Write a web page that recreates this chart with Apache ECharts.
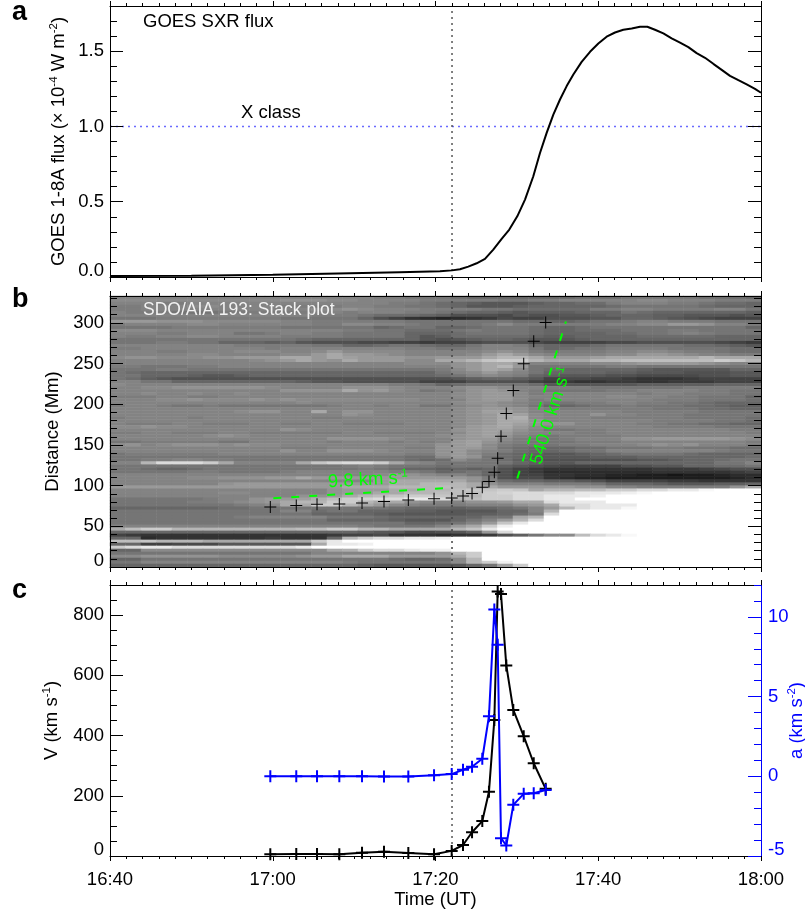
<!DOCTYPE html>
<html>
<head>
<meta charset="utf-8">
<style>html,body{margin:0;padding:0;background:#fff}#chart{width:805px;height:914px}</style>
<script src="https://cdn.jsdelivr.net/npm/echarts@6/dist/echarts.min.js"></script>
</head>
<body>
<div id="chart"></div>
<script>
// Panel a: GOES SXR flux (time in minutes of the day)
const fluxTimes = [1000,1010,1020,1028,1035.6,1040.55,1042.02,1043.01,1044.03,1045.06,1046.08,1047.1,1048.13,1049.07,1050.05,1051,1052.02,1052.84,1053.66,1054.48,1055.3,1056.12,1056.94,1057.96,1058.99,1060.01,1061.03,1062.06,1063.08,1064.11,1065.13,1066.03,1066.97,1068,1069.02,1070.05,1071.07,1072.09,1073.12,1074.14,1075.17,1076.19,1077.22,1078.24,1079.26,1080];
const fluxValues = [0.007,0.009,0.015,0.024,0.032,0.0375,0.044,0.051,0.069,0.091,0.12,0.182,0.253,0.315,0.403,0.514,0.669,0.824,0.957,1.079,1.179,1.268,1.345,1.429,1.496,1.551,1.596,1.624,1.642,1.651,1.662,1.662,1.642,1.618,1.585,1.556,1.527,1.487,1.456,1.416,1.376,1.336,1.307,1.279,1.25,1.224];
const xClassLevel = 1.0;
const onsetTime = 1042.03;

// Panels b and c: tracked front
const trackTimes = [1019.7,1022.89,1025.44,1028.18,1030.97,1033.67,1036.66,1039.82,1041.99,1043.38,1044.49,1045.75,1046.57,1047.23,1047.64,1048.05,1048.7,1049.56,1050.84,1052.07,1053.54];
const trackDistance = [73.8,75.5,77.1,77.5,78.7,80.4,82.4,84,84.8,87.3,90.2,98,105,116.4,133.7,160.7,188.6,216.9,249.6,277.5,300.5];
const velocity = [6,7,7,6,11,14,10,6,17,36.5,79,116,213.6,452,878,870,633,485,398,308,223];
const acceleration = [0,0,0,0,0,-0.02,-0.01,0.06,0.14,0.41,0.6,1.1,3.77,10.46,8.25,-3.88,-4.34,-1.79,-1.1,-1.06,-0.86];

// Linear fits drawn in panel b
const slowFitTimes = [1020.07,1040.95];
const slowFitDistance = [84.5,96.8];
const fastFitTimes = [1050.05,1056.03];
const fastFitDistance = [108.7,301.6];

// Tick labels
const xTickLabels = {1000:'16:40',1020:'17:00',1040:'17:20',1060:'17:40',1080:'18:00'};

// Stack plot grey levels (base-36 digit, 0 black .. z white), top row first
const stackRows = [
"iiiiiiiiiii iiiiiihhgg gfeeeee eefffgggggfffe",
"jjjjjjjjjjj kkkjjiiiih hhhhggh hiiiiijjiiihhh",
"iiihhiiiiii iiiiiiihhg fedcccd eeffhiiihhgffe",
"hhiiijjiiii hhhhiihhgg fecccde eeeefgggggfeee",
"hhiiiiiiiii iijjkjiiih hhhggff fffhhiihhhhiig",
"ihhhggghhhh hhiihiiihh gfeedcd ddeeegfeeeeeed",
"iiiiiiiiiii iihhhgfffe dbbbacb bccdeeeddcccbc",
"ggghhhhhhhh gggggeb976 5678a99 bbbcceedcba999",
"lllkkkjjjjj iihhhhhhgg gggggff eefgghiihhhggg",
"hiiiijjiiii iihhjjiihg ggghjhh hhhhiijjllkiih",
"gggghhhhhhh ggggggefgg eefgggf eefgggggggggge",
"jjjiiiiiiii iiiihhggff fghgggf eefffggghhgggg",
"iiihhiiiggh iihhggggee efggggf eeeeffgghihggg",
"ihhiijjiiii hhhhggggec dfffffe ddeeeefffffeee",
"ggggggggggg gfeeeeeeec bcdeedc ccdeeeeeeeeeee",
"ggghhggeeed ecbbbaa998 99abbba 9999aabbbbba98",
"iiiiiiiihhh hhggeefggf eegiihf eeefgggggffedc",
"hhiiiiiiiih iiiiiiiihh gghiiig efgghhhhggggff",
"iiihhiiijjj iijljjjjii iiijkjh ghhhiijjihhgff",
"iiiiijjiiii jjlnllkjii iijlnlj iiiijjllkjiihh",
"jkkjjjkklll nnlnmlllkk lllnppn lllmnnnnnnpnnn",
"iiiiiiiiijk lnlknllljj nnprssp nnnppqqqqqqsrp",
"iiiiiiiiiii iiiiiiiijj jklnnli iiijjkllllkjii",
"hhggghhiiii iiiiiiiiii iklnplg gggghhgggggggg",
"ggghhgggggg gggggggggg hjlnmjg feeeeedcccccee",
"gfeeeeeeeee eeeeeeeeee gijljig eeeeddcccbbbcc",
"ggeeedccdee eeeeeeeeee fgijihe dcccbbaaaabbcc",
"gfdcbbbbbbb bbbbbbbbbb bcdeedc 9aa99877789999",
"iiggeeeeeee edccbbbbb9 99bbbb9 88778877888999",
"jiiiiiiiiii iiiiiiihhg efggggf ccccccdddddeee",
"iijjkkkkkkj iiiikkkjii ijkkjii hhhgggggghhhhh",
"iiiiiiiiiii kkkknkljig hiklkih gggghhiiiihhgg",
"iijiijiijii iiiiiiiiii ijklljh iiiiiihiihhhgg",
"hhhiihhiiii iiiiiiiiii ijkllji iiiijjiihhggge",
"iiijjkjjjkj kjjjjjjjji iiklljh iiiiiiihhhgggf",
"iiiiiiiiiii ijiiiiiiii ijkkjih gghhiihhggfeee",
"hiihgghgggg ggghiihiig gijkjig eefgghgggffedd",
"iiiiiiiiiii iiiiiiiiii ijkllki hhhhhhhgggffee",
"iiiiiiiijkk iinikkiiii ijkmmki iiiiihhhhhgggg",
"iiiiiiiiiii iiiikjiiii ijklnmj iiikiihhhggggg",
"hiiiihiiiii iihhiiiiii ijklnoj iiihhhhhhggggf",
"iiiiiiiiiii iiiiiiiiii ijklnnk iiiiiiihhhhggf",
"ihhhiihhhii hhiihhhhii ijklnmk kkiiiihhggffee",
"jjkjjiiiiii iiiiiiiiii ijlmnlj iiiiiiihhhhggg",
"iiiiiiiiiii kjiiiiiiii iklmmki gghhiiiiiiiihh",
"hhiihhhiihh hhhhiihhhh ijlmlji iihhiiiiiiiiih",
"iiiiiijkjii iiiiiiiiii jklmkih ghhhhiiiiiiiii",
"iiiiiiiiiii iiikkkkjii iklljhg ghiiikklllllkj",
"gghhhhhggii iiihiiihih ilmkihg gghhhiiiiiiiih",
"jkijkkkjkjj iiiiiiiiii klmjhgg ghhiiijkjkiiih",
"iiiiiiiiiii hhhiiiiihh klljgfe eeffggghhgggff",
"iiiiiiiiiii kiikkkjiii kljihfe efggiiiiiiihgg",
"ghhhhhhiiii iiiiiiiihh kljhfed ccdefggggfeeee",
"ggggggggggg ggggggggff jlkgfec cccdddeeeeeeef",
"gghhiihhggg ggggggggfe fjhgfdc bbbbbbccdeefgg",
"iipuuusniii inrtuusnji ggggged cceeeeeeeeeggi",
"ggggggggggg gggghihggg fgggdcb a9999bbcceeffg",
"ggfeefggggg ggggghgfee dedeb98 77777778889abb",
"ggggghhgggg hiiiiiihhg efgeb98 66666667777789",
"iiiiiiiiiii iiiiiijlkj iigeb99 77665544344566",
"iiiiijjkkkl lnllllllll llkhbaa 76554444444456",
"iiiiiiiiiii iiiiiilnnn nnkhfee ddcb9999887777",
"iiiiiiiklll lllllllnnp ppnkiii hhhgeeedcccdde",
"lllllllllll llllnnnppp qpnnlll llkkiihhhhhhkn",
"iiiiiiiiiii iiiklllnnp pqrrsrn ppqqssuuwwyzzz",
"iiiiiiijjii iiikllnnpp qqqstuu uuwwwxyzzzzzzz",
"iiiiiiiiiii ikklnpqrss rqpssuu wwwxzzzzzzzzzz",
"gggggghiikl lmoqstuuww upqssuu wwzzzzzzzzzzzz",
"ggggghhijkl nppsspnnkj iikklnn uwwwzzzzzzzzzz",
"gggggggghij nnsspnljih hhiiikl nuuwwwzzzzzzzz",
"eeeeeeeffgg gggggggfee edeefgi lpuwwyzzzzzzzz",
"ggggggggggg iifggeeedd cccceei pzzzzzzzzzzzzz",
"ggggggggggg ggeeeedccc ccddefh uzzzzzzzzzzzzz",
"gggggggghii iiigggfeee eeeggnp zzzzzzzzzzzzzz",
"ggggggggggg gggeeeedcc cegilpu zzzzzzzzzzzzzz",
"ggggggggggg ggggggggee fgilrwz zzzzzzzzzzzzzz",
"iiiiiiiiiii iiiiihgggg ilnsxzz zzzzzzzzzzzzzz",
"nqssppppppp pqqssppnnn nprwzzz zzzzzzzzzzzzzz",
"eeeeeeeeeee eeeeedccaa bceluzz zzzzzzzzzzzzzz",
"98777777777 777899a777 6778bdg jjquwyzzzzzzzz",
"ee677777778 777epsuuww xzzzzzz zzzzzzzzzzzzzz",
"qqrpppnnnnn nnswzzzzzz zzzzzzz zzzzzzzzzzzzzz",
"ee99aaacccc ccnwwxzzzz zzzzzzz zzzzzzzzzzzzzz",
"suwwuuuuuuu uwzzzzzzzz zzzzzzz zzzzzzzzzzzzzz",
"eejjjjjjjjj jjjnosuuwx xzzzzzz zzzzzzzzzzzzzz",
"ggggggggggg ggiiiiiiii kpszzzz zzzzzzzzzzzzzz",
"jjkkkkkjjjj jkllnnnlll lnszzzz zzzzzzzzzzzzzz",
"eeggggggggg gggggggfee fjpzzzz zzzzzzzzzzzzzz",
"ggiiiiiiiii iiiihggggg gjpsxzz zzzzzzzzzzzzzz",
"eeeeeeeeeee eeeeedcccc ccegmsz zzzzzzzzzzzzzz"
];

const FONT = '"Liberation Sans", Arial, sans-serif';
const FS = 18.5;
const BLACK = '#000';
const BLUE = '#0000ff';
const GREEN = '#00ff00';
const T0 = 1000, T1 = 1080;
const STACK_COLS = 42;

const panels = [
  {top: 6},
  {top: 296},
  {top: 585}
];
const grid = panels.map(p => ({left: 110, width: 651, top: p.top, height: 271, containLabel: false, show: false, outerBoundsMode: 'none'}));

const sup = {fontSize: 11.5, fontFamily: FONT, padding: [0, 0, 9, 0]};
const low = {padding: [0, 0, 12, 0], fontSize: FS, fontFamily: FONT};

function timeAxis(gridIndex, position, labels) {
  return {
    type: 'value', gridIndex, position, min: T0, max: T1, interval: 20, z: 6,
    axisLine: {show: true, onZero: false, lineStyle: {color: BLACK, width: 1}},
    axisTick: {show: true, inside: false, length: 5, lineStyle: {color: BLACK, width: 1}},
    minorTick: {show: true, splitNumber: 10, length: 3, lineStyle: {color: BLACK, width: 1}},
    splitLine: {show: false}, minorSplitLine: {show: false},
    axisLabel: labels ? {show: true, fontSize: FS, fontFamily: FONT, color: BLACK, margin: 14,
      formatter: v => xTickLabels[v] || '', hideOverlap: false, showMinLabel: true, showMaxLabel: true} : {show: false},
    name: labels ? 'Time (UT)' : '', nameLocation: 'middle', nameGap: 34, nameMoveOverlap: false,
    nameTextStyle: {fontSize: FS, fontFamily: FONT, color: BLACK}
  };
}

function valueAxis(o) {
  const c = o.color || BLACK;
  const ax = {
    type: 'value', gridIndex: o.gridIndex, position: o.position, min: o.min, max: o.max, interval: o.interval, z: 6,
    axisLine: {show: true, onZero: false, lineStyle: {color: c, width: 1}},
    axisTick: {show: true, inside: true, length: o.length, lineStyle: {color: c, width: 1}},
    minorTick: {show: false}, splitLine: {show: false}, minorSplitLine: {show: false},
    axisLabel: o.labelFn ? {show: true, fontSize: FS, fontFamily: FONT, color: c, margin: o.position === 'left' ? 6 : 7,
      formatter: o.labelFn, rich: {low}, hideOverlap: false, showMaxLabel: false, showMinLabel: true} : {show: false}
  };
  if (o.name) {
    ax.name = o.name; ax.nameLocation = 'middle'; ax.nameGap = o.nameGap; ax.nameRotate = 90; ax.nameMoveOverlap = false;
    ax.nameTextStyle = {fontSize: FS, fontFamily: FONT, color: c, rich: {s: sup}};
  }
  return ax;
}

const xAxis = [
  timeAxis(0, 'bottom', false), timeAxis(0, 'top', false),
  timeAxis(1, 'bottom', false), timeAxis(1, 'top', false),
  timeAxis(2, 'bottom', true), timeAxis(2, 'top', false),
  {type: 'category', gridIndex: 1, show: false, position: 'bottom', boundaryGap: true,
   data: Array.from({length: STACK_COLS}, (_, i) => i)}
];

const flabelA = v => v === 0 ? '{low|0.0}' : v.toFixed(1);
const flabelB = v => v === 0 ? '{low|0}' : String(v);
const flabelA2 = v => v === -5 ? '{low|-5}' : String(v);

const yAxis = [
  // panel a
  valueAxis({gridIndex: 0, position: 'left', min: 0, max: 1.8, interval: 0.5, length: 13, labelFn: flabelA,
    name: 'GOES 1-8A flux (\u00d7 10{s|-4} W m{s|-2})', nameGap: 41}),
  valueAxis({gridIndex: 0, position: 'left', min: 0, max: 1.8, interval: 0.1, length: 7}),
  valueAxis({gridIndex: 0, position: 'right', min: 0, max: 1.8, interval: 0.5, length: 13}),
  valueAxis({gridIndex: 0, position: 'right', min: 0, max: 1.8, interval: 0.1, length: 7}),
  // panel b
  valueAxis({gridIndex: 1, position: 'left', min: 0, max: 333, interval: 50, length: 13, labelFn: flabelB,
    name: 'Distance (Mm)', nameGap: 48}),
  valueAxis({gridIndex: 1, position: 'left', min: 0, max: 333, interval: 10, length: 7}),
  valueAxis({gridIndex: 1, position: 'right', min: 0, max: 333, interval: 50, length: 13}),
  valueAxis({gridIndex: 1, position: 'right', min: 0, max: 333, interval: 10, length: 7}),
  // panel c
  valueAxis({gridIndex: 2, position: 'left', min: 0, max: 900, interval: 200, length: 13, labelFn: flabelB,
    name: 'V (km s{s|-1})', nameGap: 48}),
  valueAxis({gridIndex: 2, position: 'left', min: 0, max: 900, interval: 50, length: 7}),
  valueAxis({gridIndex: 2, position: 'right', min: -5, max: 12, interval: 5, length: 13, color: BLUE, labelFn: flabelA2,
    name: 'a (km s{s|-2})', nameGap: 25}),
  valueAxis({gridIndex: 2, position: 'right', min: -5, max: 12, interval: 1, length: 7, color: BLUE}),
  // heat map rows
  {type: 'category', gridIndex: 1, show: false, position: 'left', inverse: true, boundaryGap: true,
   data: stackRows.map((_, i) => i)}
];

const zip = (a, b) => a.map((v, i) => [v, b[i]]);
const heatData = [];
stackRows.forEach((row, r) => {
  const chars = row.replace(/ /g, '');
  for (let c = 0; c < STACK_COLS; c++) {
    heatData.push([c, r, parseInt(chars[c] || chars[chars.length - 1], 36)]);
  }
});

const crossThick = 'path://M5 0H7V5H12V7H7V12H5V7H0V5H5Z';
const crossThin = 'path://M5.5 0H6.5V5.5H12V6.5H6.5V12H5.5V6.5H0V5.5H5.5Z';

function dotted(xi, yi, data, color) {
  return {type: 'line', xAxisIndex: xi, yAxisIndex: yi, data, showSymbol: false, symbol: 'none', silent: true, z: 3,
    lineStyle: {color, width: 1.5, type: [2, 4]}};
}

const series = [
  // panel a
  dotted(0, 0, [[T0, xClassLevel], [T1, xClassLevel]], '#6a6aff'),
  dotted(0, 0, [[onsetTime, 0], [onsetTime, 1.8]], '#555'),
  {type: 'line', xAxisIndex: 0, yAxisIndex: 0, data: zip(fluxTimes, fluxValues), symbol: 'none', z: 4,
    lineStyle: {color: BLACK, width: 2}},
  // panel b
  {type: 'heatmap', xAxisIndex: 6, yAxisIndex: 12, data: heatData, z: 1, silent: true, progressive: 0},
  dotted(2, 4, [[onsetTime, 0], [onsetTime, 333]], '#444'),
  {type: 'line', xAxisIndex: 2, yAxisIndex: 4, data: zip(slowFitTimes, slowFitDistance), symbol: 'none', z: 4,
    lineStyle: {color: GREEN, width: 2, type: [8, 10]}},
  {type: 'line', xAxisIndex: 2, yAxisIndex: 4, data: zip(fastFitTimes, fastFitDistance), symbol: 'none', z: 4,
    lineStyle: {color: GREEN, width: 2, type: [8, 10]}},
  {type: 'scatter', xAxisIndex: 2, yAxisIndex: 4, data: zip(trackTimes, trackDistance), symbol: crossThin, symbolSize: 12, z: 5,
    itemStyle: {color: BLACK, opacity: 1}},
  // panel c
  dotted(4, 8, [[onsetTime, 0], [onsetTime, 900]], '#555'),
  {type: 'line', xAxisIndex: 4, yAxisIndex: 8, data: zip(trackTimes, velocity), symbol: crossThick, symbolSize: 12, showSymbol: true, z: 4,
    lineStyle: {color: BLACK, width: 2}, itemStyle: {color: BLACK, opacity: 1}, clip: true},
  {type: 'line', xAxisIndex: 4, yAxisIndex: 10, data: zip(trackTimes, acceleration), symbol: crossThick, symbolSize: 12, showSymbol: true, z: 5,
    lineStyle: {color: BLUE, width: 2}, itemStyle: {color: BLUE, opacity: 1}, clip: true}
];

const txt = (text, x, y, fill, extra) => ({type: 'text', x, y, z: 20, silent: true, rotation: (extra && extra.rot) || 0,
  style: Object.assign({text, fill, font: FS + 'px ' + FONT, align: 'left', verticalAlign: 'middle'}, extra && extra.style)});
const supG = {font: '11.5px ' + FONT, fill: GREEN, padding: [0, 0, 9, 0]};

const option = {
  animation: false,
  backgroundColor: '#fff',
  textStyle: {fontFamily: FONT},
  grid, xAxis, yAxis, series,
  visualMap: {show: false, type: 'continuous', seriesIndex: 3, dimension: 2, min: 0, max: 35,
    inRange: {color: ['#000000', '#ffffff']}},
  graphic: [
    txt('a', 12, 13, BLACK, {style: {font: 'bold 27px ' + FONT}}),
    txt('b', 12, 300, BLACK, {style: {font: 'bold 27px ' + FONT}}),
    txt('c', 12, 591, BLACK, {style: {font: 'bold 27px ' + FONT}}),
    txt('GOES SXR flux', 143, 22, BLACK),
    txt('X class', 241, 113, BLACK),
    txt('SDO/AIA 193: Stack plot', 143, 310, '#f2f2f2', {style: {font: '17.5px ' + FONT}}),
    txt('9.8 km s{s|-1}', 368, 480, GREEN, {rot: 0.055, style: {align: 'center', rich: {s: supG}}}),
    txt('540.0 km s{s|-1}', 551, 416, GREEN, {rot: 1.27, style: {align: 'center', rich: {s: supG}}})
  ]
};

const chart = echarts.init(document.getElementById('chart'), null, {renderer: 'canvas'});
chart.setOption(option);
</script>
</body>
</html>
